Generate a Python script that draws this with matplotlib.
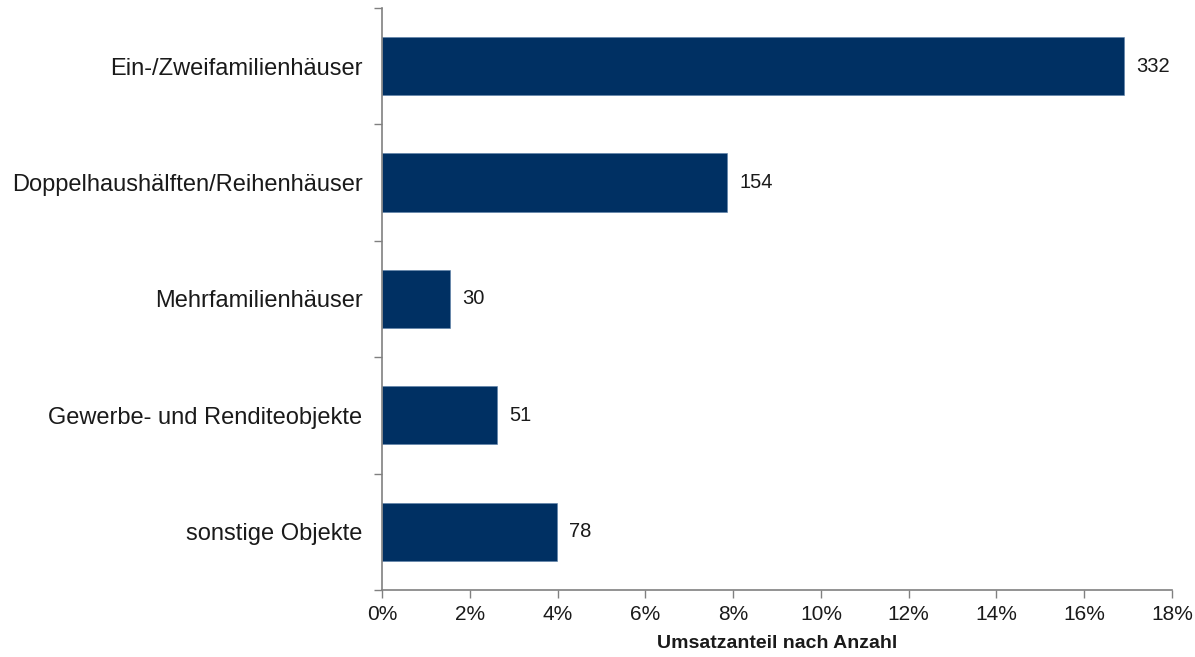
"""Horizontal bar chart: share of sales by property type."""

import matplotlib

matplotlib.use("Agg")
import matplotlib.pyplot as plt
from matplotlib.ticker import FixedLocator, PercentFormatter

plt.rcParams["font.family"] = ["Liberation Sans", "DejaVu Sans"]

categories = [
    "Ein-/Zweifamilienhäuser",
    "Doppelhaushälften/Reihenhäuser",
    "Mehrfamilienhäuser",
    "Gewerbe- und Renditeobjekte",
    "sonstige Objekte",
]
share_pct = [16.9, 7.86, 1.54, 2.61, 3.98]
counts = [332, 154, 30, 51, 78]

BAR_COLOR = "#003063"
AXIS_COLOR = "#808080"
TEXT_COLOR = "#1a1a1a"

fig = plt.figure(figsize=(11.95, 6.57), dpi=100)
ax = fig.add_axes([0.3197, 0.102, 0.6611, 0.886])

positions = list(range(len(categories)))[::-1]
ax.barh(positions, share_pct, height=0.5, color=BAR_COLOR, edgecolor="#5a7fa8", linewidth=0.4)

for pos, value, count in zip(positions, share_pct, counts):
    ax.annotate(
        str(count),
        xy=(value, pos),
        xytext=(9, 0),
        textcoords="offset points",
        va="center",
        ha="left",
        fontsize=14.5,
        color=TEXT_COLOR,
    )

ax.set_xlim(0, 18)
ax.set_ylim(-0.5, len(categories) - 0.5)
ax.xaxis.set_major_locator(FixedLocator(range(0, 19, 2)))
ax.xaxis.set_major_formatter(PercentFormatter(decimals=0))

ax.set_yticks(positions)
ax.set_yticklabels(categories)
ax.set_yticks([p - 0.5 for p in range(len(categories) + 1)], minor=True)
ax.tick_params(axis="y", which="major", length=0, pad=14, labelsize=17, labelcolor=TEXT_COLOR)
ax.tick_params(axis="y", which="minor", length=6, width=1, color=AXIS_COLOR)
ax.tick_params(axis="x", length=6, width=1, color=AXIS_COLOR, pad=5, labelsize=15, labelcolor=TEXT_COLOR)

for side in ("top", "right"):
    ax.spines[side].set_visible(False)
for side in ("left", "bottom"):
    ax.spines[side].set_color(AXIS_COLOR)
    ax.spines[side].set_linewidth(1.2)

ax.set_xlabel("Umsatzanteil nach Anzahl", fontsize=14, fontweight="bold", color=TEXT_COLOR, labelpad=8)

fig.savefig("out.png", dpi=100)
